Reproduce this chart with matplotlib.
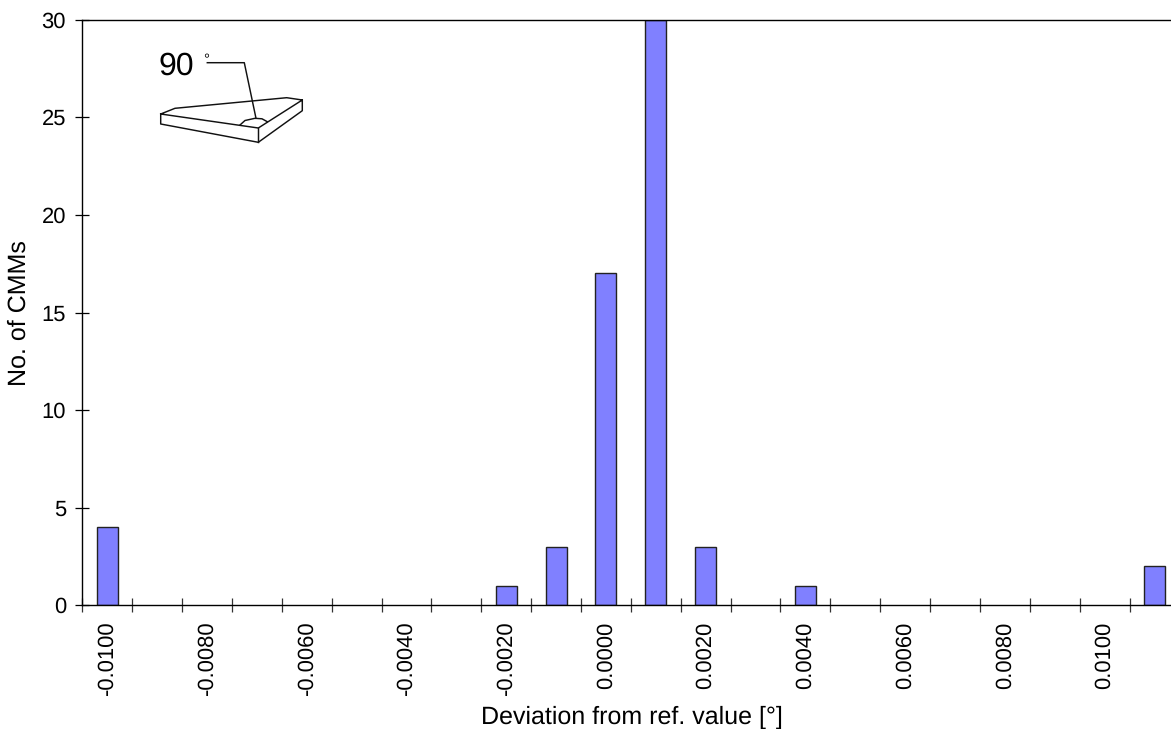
# cmm_deviation_hist.py

import numpy as np
import matplotlib
matplotlib.use('Agg')
import matplotlib.pyplot as plt

deviations = [-0.0100, -0.0090, -0.0080, -0.0070, -0.0060, -0.0050, -0.0040, -0.0030,
              -0.0020, -0.0010, 0.0000, 0.0010, 0.0020, 0.0030, 0.0040, 0.0050,
              0.0060, 0.0070, 0.0080, 0.0090, 0.0100, 0.0110]
counts = [4, 0, 0, 0, 0, 0, 0, 0, 1, 3, 17, 30, 3, 0, 1, 0, 0, 0, 0, 0, 0, 2]
y_ticks = [0, 5, 10, 15, 20, 25, 30]

W, H = 1171, 729
FONT = 'Liberation Sans'
plt.rcParams['font.family'] = [FONT, 'DejaVu Sans']
plt.rcParams['text.hinting'] = 'no_hinting'
plt.rcParams['text.hinting_factor'] = 1


def draw_inset(ov):
    # little wedge sketch, in pixel coords of the figure
    line = dict(color='#111111', lw=1.05, solid_joinstyle='round')
    ov.plot([160.7, 175, 286.7, 302.3, 258.3, 160.7, 160.7, 258.3, 302.3, 302.3],
            [114, 108.3, 97.7, 100, 128, 114, 124, 142.3, 110.7, 100], **line)
    ov.plot([258.3, 258.3], [128, 142.3], **line)
    ov.plot([240, 245, 255, 262, 267.3], [125, 120.5, 118.3, 118.8, 121.7], **line)
    ov.plot([207.3, 244.3, 256], [62.7, 62.7, 118.3], **line)
    ov.text(158, 75, '90', fontsize=23, ha='left', va='baseline')
    ov.text(203, 64, '°', fontsize=11, ha='left', va='baseline')


def main():
    fig = plt.figure(figsize=(W / 100, H / 100), dpi=100)
    left, right, top, bottom = 82.3, 1179.4, 19.7, 605.3
    ax = fig.add_axes([left / W, 1 - bottom / H, (right - left) / W, (bottom - top) / H])

    x = np.arange(len(deviations))
    lws = [1.0 if c > 0 else 0 for c in counts]
    ax.bar(x, counts, width=0.42, color='#8080FF', edgecolor='#222222', linewidth=lws)
    ax.set_xlim(-0.5, len(deviations) - 0.5)
    ax.set_ylim(0, 30)

    ax.set_xticks(np.arange(-0.5, len(deviations)))
    ax.set_xticklabels([])
    ax.tick_params(axis='x', which='major', direction='inout', length=9.5, width=0.9, color='#333333')
    ax.set_xticks(x[::2], minor=True)
    ax.set_xticklabels([f'{d:.4f}' for d in deviations[::2]], minor=True, rotation=90, fontsize=16)
    ax.tick_params(axis='x', which='minor', length=0, pad=11.5)

    ax.set_yticks(y_ticks)
    ax.tick_params(axis='y', direction='inout', length=9.5, width=0.9, labelsize=15.5, pad=7)
    for s in ax.spines.values():
        s.set_linewidth(1.0)

    fig.text(632 / W, 1 - 717 / H, 'Deviation from ref. value [°]', fontsize=17.9, ha='center', va='center')
    fig.text(19 / W, 1 - 313 / H, 'No. of CMMs', fontsize=17.9, rotation=90, ha='center', va='center')

    ov = fig.add_axes([0, 0, 1, 1])
    ov.set_xlim(0, W)
    ov.set_ylim(H, 0)
    ov.axis('off')
    draw_inset(ov)

    fig.savefig('out.png', dpi=100)


if __name__ == "__main__":
    main()
